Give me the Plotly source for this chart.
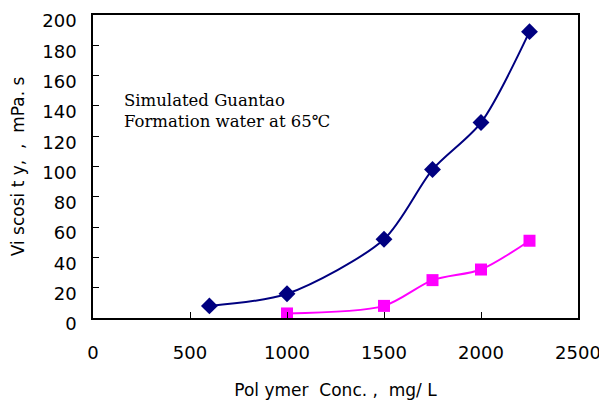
import plotly.graph_objects as go

conc_a = [600, 1000, 1500, 1750, 2000, 2250]
visc_a = [8, 16, 52, 98, 129, 189]
conc_b = [1000, 1500, 1750, 2000, 2250]
visc_b = [3, 8, 25, 32, 51]
x_ticks = [0, 500, 1000, 1500, 2000, 2500]
y_ticks = list(range(0, 201, 20))

fig = go.Figure()
fig.add_trace(go.Scatter(x=conc_a, y=visc_a, mode="lines+markers",
                         line=dict(color="#000080", width=2, shape="spline", smoothing=0.8),
                         marker=dict(symbol="diamond", size=13, color="#000080"),
                         showlegend=False))
fig.add_trace(go.Scatter(x=conc_b, y=visc_b, mode="lines+markers",
                         line=dict(color="#FF00FF", width=2, shape="spline", smoothing=0.8),
                         marker=dict(symbol="square", size=12, color="#FF00FF"),
                         showlegend=False))

axis_common = dict(showgrid=False, zeroline=False, showline=True, linecolor="black",
                   linewidth=1.5, mirror=True, ticks="inside", ticklen=6,
                   tickcolor="black", automargin=False,
                   tickfont=dict(family="DejaVu Sans", size=18, color="black"))
fig.update_layout(
    width=599, height=394,
    margin=dict(l=85, r=29, t=7, b=84),
    paper_bgcolor="white", plot_bgcolor="white",
    xaxis=dict(range=[0, 2500], tickvals=x_ticks, ticklabelstandoff=18,
               title=dict(text="Pol ymer  Conc. ,  mg/ L", standoff=22,
                          font=dict(family="DejaVu Sans", size=17, color="black")),
               **axis_common),
    yaxis=dict(range=[0, 200], tickvals=y_ticks, ticklabelstandoff=11,
               ticklabelshift=6, ticklabeloverflow="allow",
               title=dict(text="Vi scosi t y,  ,  mPa. s", standoff=14,
                          font=dict(family="DejaVu Sans", size=17, color="black")),
               **axis_common),
    annotations=[dict(x=150, y=151, xref="x", yref="y", xanchor="left", yanchor="top",
                      align="left", showarrow=False,
                      text="Simulated Guantao<br>Formation water at 65℃",
                      font=dict(family="DejaVu Serif", size=16.5, color="black"))],
)
fig.write_html("out.html")
